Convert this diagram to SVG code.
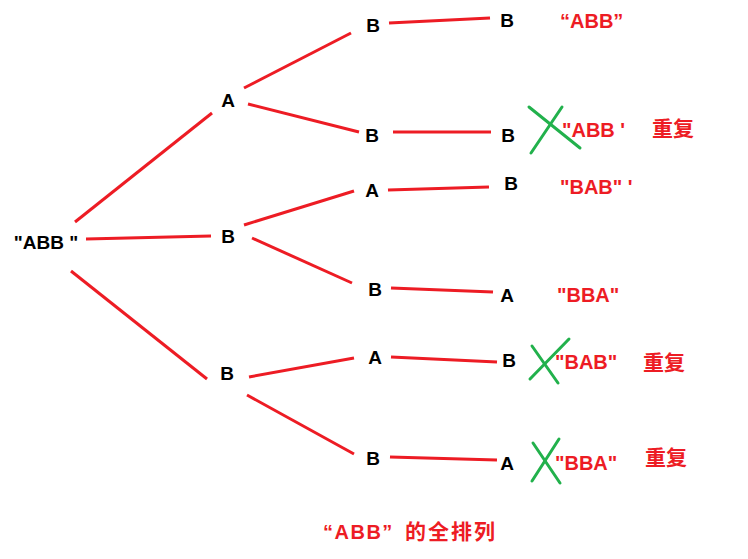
<svg xmlns="http://www.w3.org/2000/svg" width="748" height="559" viewBox="0 0 748 559">
<style>
.n{font-family:"Liberation Sans",Arial,sans-serif;font-weight:bold;font-size:19px;fill:#000;text-anchor:middle}
.r{font-family:"Liberation Sans","Noto Sans CJK SC",sans-serif;font-weight:bold;font-size:20px;fill:#ed1c24}
.c{font-family:"Noto Sans CJK SC",sans-serif;font-weight:bold;font-size:21px;fill:#ed1c24}
.e{stroke:#ed1c24;stroke-width:3;fill:none;stroke-linecap:butt}
.x{stroke:#22b14c;stroke-width:3;fill:none;stroke-linecap:round}
</style>
<rect width="748" height="559" fill="#fff"/>
<g id="connectors">
<line class="e" x1="75" y1="222" x2="212" y2="113"/>
<line class="e" x1="86" y1="239" x2="211" y2="236"/>
<line class="e" x1="71" y1="271" x2="207" y2="379"/>
<line class="e" x1="244" y1="88" x2="351" y2="33"/>
<line class="e" x1="248" y1="104" x2="359" y2="132"/>
<line class="e" x1="244" y1="225" x2="354" y2="191"/>
<line class="e" x1="252" y1="238" x2="352" y2="283"/>
<line class="e" x1="249" y1="377" x2="354" y2="358"/>
<line class="e" x1="247" y1="395" x2="354" y2="454"/>
<line class="e" x1="389" y1="23" x2="490" y2="18"/>
<line class="e" x1="393" y1="132" x2="491" y2="132"/>
<line class="e" x1="388" y1="190" x2="489" y2="187"/>
<line class="e" x1="391" y1="288" x2="493" y2="292"/>
<line class="e" x1="391" y1="357" x2="497" y2="362"/>
<line class="e" x1="390" y1="457" x2="497" y2="460"/>
</g>
<g id="root"><text class="n" x="46" y="249" font-size="20">"ABB "</text></g>
<g id="l1-A"><text class="n" x="228" y="107">A</text></g>
<g id="l1-B1"><text class="n" x="228" y="243">B</text></g>
<g id="l1-B2"><text class="n" x="227" y="380">B</text></g>
<g id="l2-1"><text class="n" x="373" y="32">B</text></g>
<g id="l2-2"><text class="n" x="372" y="142">B</text></g>
<g id="l2-3"><text class="n" x="372" y="197">A</text></g>
<g id="l2-4"><text class="n" x="375" y="296">B</text></g>
<g id="l2-5"><text class="n" x="375" y="364">A</text></g>
<g id="l2-6"><text class="n" x="373" y="465">B</text></g>
<g id="l3-1"><text class="n" x="507" y="27">B</text></g>
<g id="l3-2"><text class="n" x="508" y="142">B</text></g>
<g id="l3-3"><text class="n" x="511" y="190">B</text></g>
<g id="l3-4"><text class="n" x="507" y="302">A</text></g>
<g id="l3-5"><text class="n" x="509" y="367">B</text></g>
<g id="l3-6"><text class="n" x="507" y="470">A</text></g>
<g id="res-1"><text class="r" x="560" y="28">“ABB”</text></g>
<g id="res-2">
<line class="x" x1="529" y1="107" x2="580" y2="148"/>
<line class="x" x1="562" y1="107" x2="531" y2="153"/>
<text class="r" x="562" y="137">"ABB '</text>
<text class="c" x="652" y="136">重复</text>
</g>
<g id="res-3"><text class="r" x="560" y="194">"BAB" '</text></g>
<g id="res-4"><text class="r" x="557" y="302">"BBA"</text></g>
<g id="res-5">
<line class="x" x1="532" y1="346" x2="558" y2="383"/>
<line class="x" x1="569" y1="339" x2="530" y2="379"/>
<text class="r" x="555" y="369">"BAB"</text>
<text class="c" x="643" y="370">重复</text>
</g>
<g id="res-6">
<line class="x" x1="533" y1="443" x2="560" y2="483"/>
<line class="x" x1="559" y1="439" x2="532" y2="481"/>
<text class="r" x="555" y="470">"BBA"</text>
<text class="c" x="645" y="465">重复</text>
</g>
<g id="caption"><text class="r" x="323" y="539" font-size="21" letter-spacing="1.5">“ABB”<tspan x="405" font-family="Noto Sans CJK SC" font-size="21" letter-spacing="2">的全排列</tspan></text></g>
</svg>
